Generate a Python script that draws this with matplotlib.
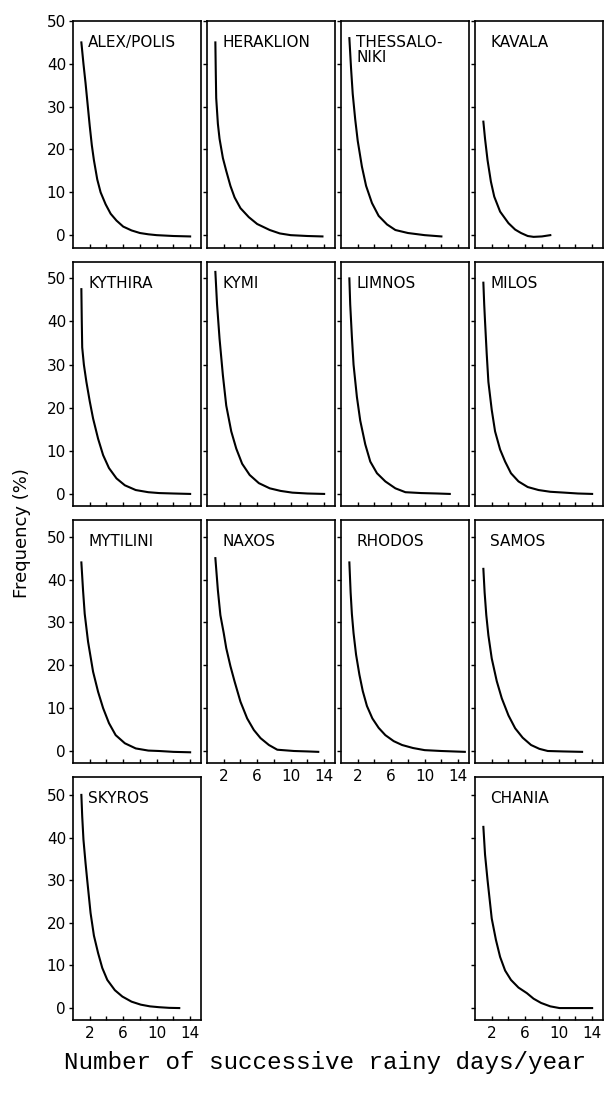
import matplotlib
matplotlib.use("Agg")
import matplotlib.pyplot as plt
from matplotlib.ticker import FixedLocator, FixedFormatter

# ---------------- data ----------------
stations = ['ALEX/POLIS', 'HERAKLION', 'THESSALO-\nNIKI', 'KAVALA',
            'KYTHIRA', 'KYMI', 'LIMNOS', 'MILOS',
            'MYTILINI', 'NAXOS', 'RHODOS', 'SAMOS',
            'SKYROS', 'CHANIA']

alex_x = [1, 1.25, 1.5, 1.75, 2, 2.25, 2.5, 2.9, 3.3, 3.9, 4.5, 5.2, 6, 7, 8, 9, 10, 12, 14]
alex_y = [45, 40, 35.5, 30.5, 25.5, 21, 17.5, 13, 10, 7.2, 5, 3.4, 2, 1.1, 0.5, 0.2, 0, -0.2, -0.3]
herak_x = [1, 1.05, 1.1, 1.3, 1.5, 1.9, 2.3, 2.8, 3.3, 4, 5, 6, 7.5, 8.7, 10, 12, 13.8]
herak_y = [45, 38, 32, 26, 22.5, 18, 15, 11.5, 8.8, 6.3, 4.2, 2.6, 1.2, 0.4, 0, -0.2, -0.3]
thess_x = [1, 1.2, 1.4, 1.7, 2, 2.5, 3, 3.7, 4.5, 5.5, 6.5, 8, 10, 12]
thess_y = [46, 39, 33, 27, 22, 16, 11.5, 7.5, 4.5, 2.5, 1.2, 0.5, 0, -0.3]
kaval_x = [1, 1.2, 1.5, 1.9, 2.3, 3, 4, 4.8, 5.5, 6.3, 7, 8, 9]
kaval_y = [26.5, 22.5, 17.5, 12.5, 9, 5.5, 2.8, 1.3, 0.5, -0.2, -0.4, -0.3, 0]
kythi_x = [1, 1.05, 1.1, 1.3, 1.6, 2, 2.4, 3, 3.6, 4.3, 5.2, 6.2, 7.5, 9, 10.3, 12, 14]
kythi_y = [47.5, 40, 34, 30, 26, 21.5, 17.5, 12.8, 9, 6, 3.6, 2, 0.9, 0.4, 0.2, 0.1, 0]
kymi_x = [1, 1.2, 1.5, 1.9, 2.3, 2.9, 3.5, 4.2, 5.1, 6.2, 7.5, 8.8, 10.2, 12, 14]
kymi_y = [51.5, 44, 36, 27.5, 20.5, 14.5, 10.5, 7, 4.4, 2.5, 1.3, 0.7, 0.3, 0.1, 0]
limno_x = [1, 1.1, 1.3, 1.5, 1.9, 2.3, 2.9, 3.5, 4.3, 5.3, 6.5, 7.7, 9.6, 11.5, 13]
limno_y = [50, 44, 36.5, 30, 22.5, 17, 11.5, 7.5, 4.8, 2.9, 1.3, 0.4, 0.2, 0.1, 0]
milos_x = [1, 1.1, 1.2, 1.4, 1.6, 2, 2.4, 3, 3.6, 4.3, 5.2, 6.3, 7.6, 9, 10.7, 12.3, 14]
milos_y = [49, 44, 40, 32.5, 26, 19.5, 14.5, 10.3, 7.5, 4.8, 2.9, 1.6, 0.9, 0.5, 0.3, 0.1, 0]
mytil_x = [1, 1.2, 1.4, 1.8, 2.4, 3, 3.6, 4.3, 5.1, 6.2, 7.5, 9, 10.3, 12, 14]
mytil_y = [44, 37.5, 32, 25.5, 18.5, 13.8, 10, 6.5, 3.7, 1.8, 0.6, 0.1, 0, -0.2, -0.3]
naxos_x = [1, 1.3, 1.6, 2, 2.3, 2.8, 3.3, 4, 4.8, 5.6, 6.4, 7.4, 8.4, 10.4, 12, 13.3]
naxos_y = [45, 37.5, 31.7, 27.5, 24, 19.8, 16.2, 11.5, 7.6, 4.9, 3.0, 1.4, 0.3, 0, -0.1, -0.2]
rhodo_x = [1, 1.15, 1.3, 1.5, 1.8, 2.2, 2.6, 3.1, 3.75, 4.5, 5.3, 6.3, 7.3, 8.6, 10, 12, 14.8]
rhodo_y = [44, 37, 32, 27.5, 22.5, 17.8, 14, 10.5, 7.6, 5.4, 3.7, 2.3, 1.4, 0.7, 0.2, 0, -0.2]
samos_x = [1, 1.15, 1.35, 1.6, 2, 2.6, 3.2, 4, 4.8, 5.7, 6.7, 7.7, 8.7, 10.5, 12.8]
samos_y = [42.5, 37, 31.7, 27, 21.6, 16.3, 12.3, 8.3, 5.3, 3.1, 1.4, 0.5, 0, -0.1, -0.2]
skyro_x = [1, 1.1, 1.25, 1.5, 1.7, 2.1, 2.5, 3, 3.5, 4.1, 5, 5.9, 7, 8.1, 9.2, 10.3, 11.5, 12.7]
skyro_y = [50, 45, 39.5, 34, 30, 22.3, 17, 12.9, 9.4, 6.6, 4.2, 2.7, 1.5, 0.8, 0.4, 0.2, 0.05, 0]
chani_x = [1, 1.2, 1.5, 2, 2.5, 3, 3.6, 4.3, 5.2, 6.2, 7, 7.9, 9, 10.1, 12, 14]
chani_y = [42.5, 36, 30, 21, 16, 12, 8.8, 6.6, 4.8, 3.5, 2.2, 1.2, 0.4, 0, 0, 0]

x_ticks = [2, 4, 6, 8, 10, 12, 14]
x_ticklabels = ['2', '', '6', '', '10', '', '14']
y_ticks = [0, 10, 20, 30, 40, 50]
y_ticklabels = ['0', '10', '20', '30', '40', '50']

series = [(alex_x, alex_y), (herak_x, herak_y), (thess_x, thess_y), (kaval_x, kaval_y),
          (kythi_x, kythi_y), (kymi_x, kymi_y), (limno_x, limno_y), (milos_x, milos_y),
          (mytil_x, mytil_y), (naxos_x, naxos_y), (rhodo_x, rhodo_y), (samos_x, samos_y),
          (skyro_x, skyro_y), (chani_x, chani_y)]

# ---------------- layout ----------------
W, H = 605, 1093
fig = plt.figure(figsize=(W / 100, H / 100), dpi=100)

col_left = [73, 207, 341, 475]
col_w = 128
row_top = [21, 262, 520, 777]
row_bot = [248, 506, 763, 1020]
row_ylim = [(-3.0, 50.0), (-2.8, 53.8), (-2.8, 53.9), (-2.8, 54.2)]

cells = [(0, 0), (0, 1), (0, 2), (0, 3),
         (1, 0), (1, 1), (1, 2), (1, 3),
         (2, 0), (2, 1), (2, 2), (2, 3),
         (3, 0), (3, 3)]
xlabel_cells = {(2, 1), (2, 2), (3, 0), (3, 3)}

for name, (xs, ys), (r, c) in zip(stations, series, cells):
    left = col_left[c] / W
    bottom = 1 - row_bot[r] / H
    hpx = row_bot[r] - row_top[r]
    ax = fig.add_axes([left, bottom, col_w / W, hpx / H])
    ax.plot(xs, ys, color='black', lw=1.5, solid_joinstyle='round')
    ax.set_xlim(0, 15.3)
    ax.set_ylim(*row_ylim[r])
    for sp in ax.spines.values():
        sp.set_linewidth(1.2)
    ax.xaxis.set_major_locator(FixedLocator(x_ticks))
    if (r, c) in xlabel_cells:
        ax.xaxis.set_major_formatter(FixedFormatter(x_ticklabels))
    else:
        ax.set_xticklabels([])
    ax.yaxis.set_major_locator(FixedLocator(y_ticks))
    if c == 0:
        ax.yaxis.set_major_formatter(FixedFormatter(y_ticklabels))
    else:
        ax.set_yticklabels([])
    ax.tick_params(axis='x', direction='in', length=3, width=1, pad=4, labelsize=11)
    ax.tick_params(axis='y', direction='out', length=3, width=1, pad=2, labelsize=11)
    ax.text(0.12, 1 - 14 / hpx, name, transform=ax.transAxes, ha='left', va='top',
            fontsize=11, family='DejaVu Sans', linespacing=1.0)

fig.text(22 / W, 1 - 533 / H, 'Frequency (%)', rotation=90, ha='center', va='center',
         fontsize=13)
fig.text(325 / W, 1 - 1063 / H, 'Number of successive rainy days/year',
         ha='center', va='center', fontsize=17.5, family='Liberation Mono')

fig.savefig('out.png', dpi=100)
